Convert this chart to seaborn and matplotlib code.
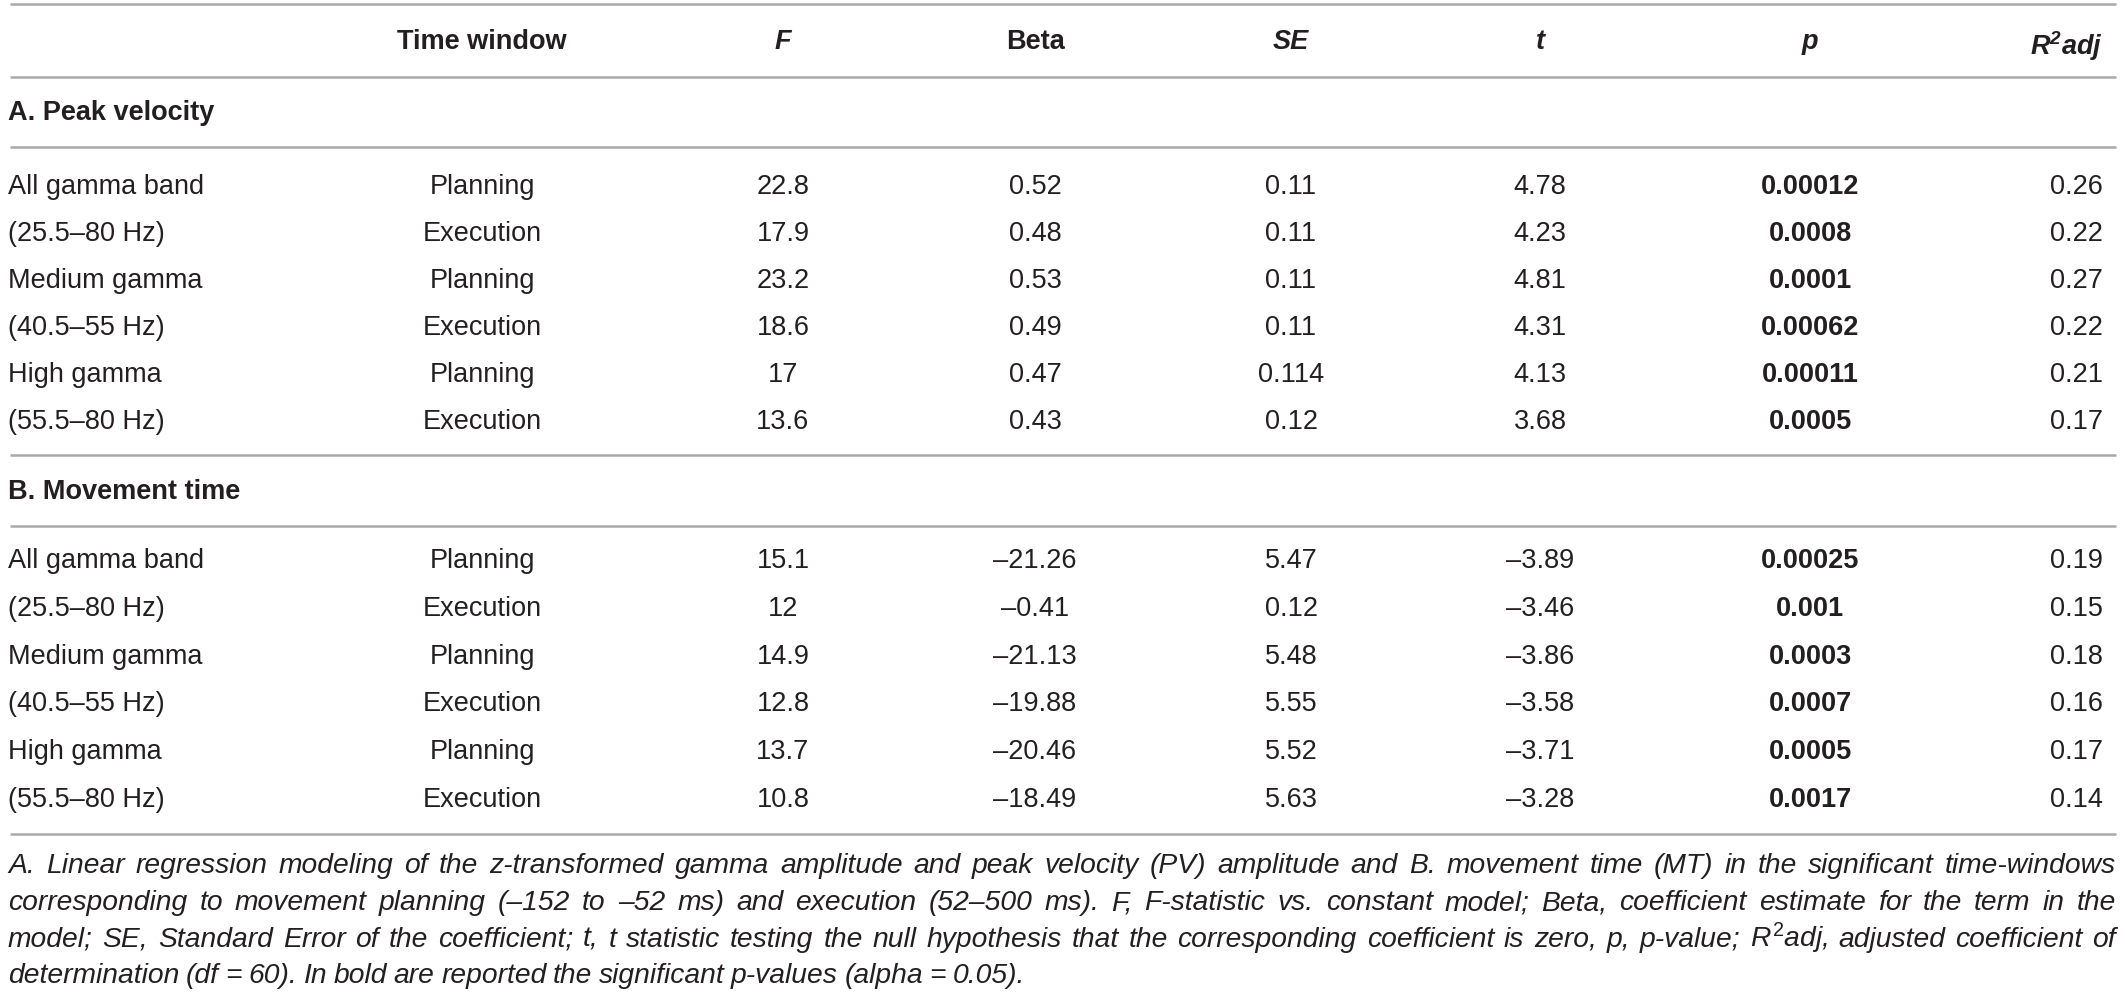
import numpy as np
import pandas as pd
import matplotlib.pyplot as plt
import seaborn as sns

# table content
header = ["", "Time window", "F", "Beta", "SE", "t", "p", r"$\mathbf{R^2}$adj"]
sections = ["A. Peak velocity", "B. Movement time"]
bands = ["All gamma band", "(25.5\u201380 Hz)", "Medium gamma", "(40.5\u201355 Hz)",
         "High gamma", "(55.5\u201380 Hz)"]
windows = ["Planning", "Execution"] * 3

F_a = ["22.8", "17.9", "23.2", "18.6", "17", "13.6"]
beta_a = ["0.52", "0.48", "0.53", "0.49", "0.47", "0.43"]
se_a = ["0.11", "0.11", "0.11", "0.11", "0.114", "0.12"]
t_a = ["4.78", "4.23", "4.81", "4.31", "4.13", "3.68"]
p_a = ["0.00012", "0.0008", "0.0001", "0.00062", "0.00011", "0.0005"]
r2_a = ["0.26", "0.22", "0.27", "0.22", "0.21", "0.17"]

F_b = ["15.1", "12", "14.9", "12.8", "13.7", "10.8"]
beta_b = ["\u201321.26", "\u20130.41", "\u201321.13", "\u201319.88", "\u201320.46", "\u201318.49"]
se_b = ["5.47", "0.12", "5.48", "5.55", "5.52", "5.63"]
t_b = ["\u20133.89", "\u20133.46", "\u20133.86", "\u20133.58", "\u20133.71", "\u20133.28"]
p_b = ["0.00025", "0.001", "0.0003", "0.0007", "0.0005", "0.0017"]
r2_b = ["0.19", "0.15", "0.18", "0.16", "0.17", "0.14"]

caption = [
    "A. Linear regression modeling of the z-transformed gamma amplitude and peak velocity (PV) amplitude and B. movement time (MT) in the significant time-windows",
    "corresponding to movement planning (\u2013152 to \u201352 ms) and execution (52\u2013500 ms). F, F-statistic vs. constant model; Beta, coefficient estimate for the term in the",
    r"model; SE, Standard Error of the coefficient; t, t statistic testing the null hypothesis that the corresponding coefficient is zero, p, p-value; $\mathit{R}^2$adj, adjusted coefficient of",
    "determination (df = 60). In bold are reported the significant p-values (alpha = 0.05).",
]

df_a = pd.DataFrame({"band": bands, "win": windows, "F": F_a, "beta": beta_a,
                     "se": se_a, "t": t_a, "p": p_a, "r2": r2_a})
df_b = pd.DataFrame({"band": bands, "win": windows, "F": F_b, "beta": beta_b,
                     "se": se_b, "t": t_b, "p": p_b, "r2": r2_b})

sns.set_style("white")
plt.rcParams['font.family'] = ['Liberation Sans', 'DejaVu Sans']
plt.rcParams['mathtext.fontset'] = 'custom'
plt.rcParams['mathtext.rm'] = 'Liberation Sans'
plt.rcParams['mathtext.it'] = 'Liberation Sans:italic'
plt.rcParams['mathtext.bf'] = 'Liberation Sans:bold:italic'
txt = "#231f20"
rule = "#a9a9a9"
fs = 19.5

fig = plt.figure(figsize=(21.25, 9.95), dpi=100)
ax = fig.add_axes([0, 0, 1, 1])
ax.set_xlim(0, 2125)
ax.set_ylim(995, 0)
ax.axis("off")

# column x positions (pixels) and alignment
col_x = [8, 482, 783, 1035, 1291, 1540, 1810, 2103]
col_ha = ["left", "center", "center", "center", "center", "center", "center", "right"]
head_style = ["normal", "normal", "italic", "normal", "italic", "italic", "italic", "italic"]

def hline(y):
    ax.plot([10, 2116], [y, y], color=rule, lw=1.8, solid_capstyle="butt")

hline(5)
for i, h in enumerate(header):
    ax.text(col_x[i], 42, h, ha=col_ha[i], va="center_baseline" if i == 7 else "center",
            fontsize=fs, fontweight="bold", fontstyle=head_style[i], color=txt)
hline(78)

def draw_section(df, title, y_title, y0, step):
    ax.text(col_x[0], y_title, title, ha="left", va="center", fontsize=fs,
            fontweight="bold", color=txt)
    hline(y_title + 35)
    keys = ["band", "win", "F", "beta", "se", "t", "p", "r2"]
    for r in range(len(df)):
        y = y0 + r * step
        for c, k in enumerate(keys):
            ax.text(col_x[c], y, df[k].iloc[r], ha=col_ha[c], va="center",
                    fontsize=fs, color=txt,
                    fontweight="bold" if k == "p" else "normal")

draw_section(df_a, sections[0], 113, 187, 47)
hline(456)
draw_section(df_b, sections[1], 492, 561, 47.8)
hline(835)

# justified caption
renderer = fig.canvas.get_renderer()
left, right = 8, 2116
cap_y = [866, 903, 940, 976]
cap_fs = 20.3
for li, line in enumerate(caption):
    words = line.split(" ")
    objs = [ax.text(0, cap_y[li], w, ha="left", va="baseline", fontsize=cap_fs,
                    fontstyle="italic", color=txt) for w in words]
    widths = [o.get_window_extent(renderer).width for o in objs]
    if li < len(caption) - 1:
        gap = (right - left - sum(widths)) / (len(words) - 1)
    else:
        gap = 6.5
    x = left
    for o, w in zip(objs, widths):
        o.set_x(x)
        o.set_y(cap_y[li] + 7)
        x += w + gap

fig.savefig("out.png", dpi=100, facecolor="white")
